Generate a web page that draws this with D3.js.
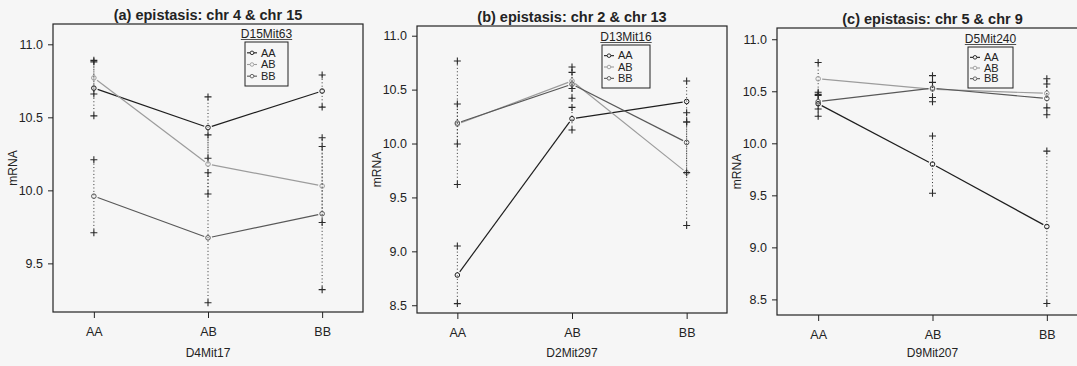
<!DOCTYPE html>
<html>
<head>
<meta charset="utf-8">
<script src="https://cdn.jsdelivr.net/npm/d3@7"></script>
<style>
  body { margin: 0; background: #f6f6f6; }
  svg { display: block; font-family: "Liberation Sans", Arial, sans-serif; }
</style>
</head>
<body>
<svg id="chart" width="1077" height="366"></svg>
<script>
// genotypes on the x axis and in the legend
const genotypes = ["AA", "AB", "BB"];

const titles = [
  "(a) epistasis: chr 4 & chr 15",
  "(b) epistasis: chr 2 & chr 13",
  "(c) epistasis: chr 5 & chr 9"
];
const xLabels = ["D4Mit17", "D2Mit297", "D9Mit207"];
const legendTitles = ["D15Mit63", "D13Mit16", "D5Mit240"];

const yTicks = [
  [9.5, 10.0, 10.5, 11.0],
  [8.5, 9.0, 9.5, 10.0, 10.5, 11.0],
  [8.5, 9.0, 9.5, 10.0, 10.5, 11.0]
];
const yDomains = [
  [9.167, 11.139],
  [8.428, 11.09],
  [8.35, 11.108]
];

// means, lower and upper interval ends: rows = legend genotype (AA, AB, BB), cols = x genotype
const meansA = [[10.70, 10.43, 10.68], [10.77, 10.18, 10.03], [9.96, 9.675, 9.84]];
const lowA   = [[10.51, 10.22, 10.57], [10.66, 9.975, 9.78], [9.71, 9.23, 9.32]];
const highA  = [[10.89, 10.64, 10.79], [10.88, 10.38, 10.30], [10.21, 10.12, 10.36]];

const meansB = [[8.78, 10.23, 10.39], [10.18, 10.58, 9.73], [10.19, 10.55, 10.01]];
const lowB   = [[8.515, 10.125, 10.20], [9.995, 10.51, 9.24], [9.62, 10.42, 9.73]];
const highB  = [[9.05, 10.335, 10.58], [10.366, 10.66, 10.20], [10.765, 10.71, 10.285]];

const meansC = [[10.38, 9.80, 9.20], [10.62, 10.52, 10.48], [10.40, 10.53, 10.43]];
const lowC   = [[10.26, 9.52, 8.46], [10.47, 10.44, 10.34], [10.33, 10.40, 10.275]];
const highC  = [[10.49, 10.07, 9.925], [10.776, 10.585, 10.62], [10.46, 10.65, 10.57]];

const means = [meansA, meansB, meansC];
const lows = [lowA, lowB, lowC];
const highs = [highA, highB, highC];

// layout
const boxes = [
  { l: 53, r: 363, t: 24, b: 312, pad: 0.358 },
  { l: 417, r: 727, t: 26, b: 313, pad: 0.352 },
  { l: 777, r: 1088, t: 28, b: 315, pad: 0.36 }
];
const legendPos = [
  { x: 245, y: 42, w: 43, h: 44 },
  { x: 602, y: 45, w: 48, h: 43 },
  { x: 968, y: 47, w: 45, h: 41 }
];
const seriesColor = ["#1e1e1e", "#9c9c9c", "#585858"];
const ink = "#232323";

const svg = d3.select("#chart");
svg.append("rect").attr("width", 1077).attr("height", 366).attr("fill", "#f6f6f6");

boxes.forEach((bx, i) => {
  const g = svg.append("g");
  const x = d3.scalePoint().domain(genotypes).range([bx.l, bx.r]).padding(bx.pad);
  const y = d3.scaleLinear().domain(yDomains[i]).range([bx.b, bx.t]);

  // y axis
  const ya = g.append("g")
    .attr("transform", "translate(" + bx.l + ",0)")
    .call(d3.axisLeft(y).tickValues(yTicks[i]).tickFormat(d3.format(".1f")).tickSize(5).tickPadding(5));
  ya.select(".domain").remove();
  ya.selectAll("line").attr("stroke", ink);
  ya.selectAll("text").attr("fill", ink).style("font-size", "12.5px");

  // x axis
  const xa = g.append("g")
    .attr("transform", "translate(0," + bx.b + ")")
    .call(d3.axisBottom(x).tickSize(6).tickPadding(9));
  xa.select(".domain").remove();
  xa.selectAll("line").attr("stroke", ink);
  xa.selectAll("text").attr("fill", ink).style("font-size", "12.5px");

  // frame
  g.append("rect")
    .attr("x", bx.l).attr("y", bx.t)
    .attr("width", bx.r - bx.l).attr("height", bx.b - bx.t)
    .attr("fill", "none").attr("stroke", ink).attr("stroke-width", 1.2);

  // title
  g.append("text")
    .attr("x", (bx.l + bx.r) / 2).attr("y", bx.t - 4)
    .attr("text-anchor", "middle")
    .style("font-size", "14.5px").style("font-weight", "bold")
    .attr("fill", ink)
    .text(titles[i]);

  // axis labels
  g.append("text")
    .attr("x", x("AB")).attr("y", 357)
    .attr("text-anchor", "middle").style("font-size", "12px").attr("fill", ink)
    .text(xLabels[i]);
  g.append("text")
    .attr("transform", "translate(" + (bx.l - 36) + "," + ((bx.t + bx.b) / 2) + ") rotate(-90)")
    .attr("text-anchor", "middle").style("font-size", "12px").attr("fill", ink)
    .text("mRNA");

  const plot = g.append("g");
  means[i].forEach((row, s) => {
    // dotted intervals with + ends
    genotypes.forEach((gt, j) => {
      const cx = x(gt);
      plot.append("line")
        .attr("x1", cx).attr("x2", cx)
        .attr("y1", y(lows[i][s][j])).attr("y2", y(highs[i][s][j]))
        .attr("stroke", "#333").attr("stroke-width", 1)
        .attr("stroke-dasharray", "1,2.4");
      [lows[i][s][j], highs[i][s][j]].forEach(v => {
        plot.append("path")
          .attr("transform", "translate(" + cx + "," + y(v) + ")")
          .attr("d", "M-3.5,0H3.5M0,-3.5V3.5")
          .attr("stroke", "#2a2a2a").attr("stroke-width", 1.1);
      });
    });

    // mean lines, broken around the points
    const pts = row.map((v, j) => [x(genotypes[j]), y(v)]);
    for (let j = 0; j < pts.length - 1; j++) {
      const [x1, y1] = pts[j], [x2, y2] = pts[j + 1];
      const len = Math.hypot(x2 - x1, y2 - y1), gap = 4;
      const ux = (x2 - x1) / len, uy = (y2 - y1) / len;
      plot.append("line")
        .attr("x1", x1 + ux * gap).attr("y1", y1 + uy * gap)
        .attr("x2", x2 - ux * gap).attr("y2", y2 - uy * gap)
        .attr("stroke", seriesColor[s]).attr("stroke-width", 1.2);
    }
    pts.forEach(p => {
      plot.append("circle")
        .attr("cx", p[0]).attr("cy", p[1]).attr("r", 2.3)
        .attr("fill", "none").attr("stroke", seriesColor[s]).attr("stroke-width", 1);
    });
  });

  // legend
  const lp = legendPos[i];
  const lg = g.append("g");
  lg.append("rect")
    .attr("x", lp.x).attr("y", lp.y).attr("width", lp.w).attr("height", lp.h)
    .attr("fill", "none").attr("stroke", ink).attr("stroke-width", 1);
  const lt = lg.append("text")
    .attr("x", lp.x + lp.w / 2).attr("y", lp.y - 4)
    .attr("text-anchor", "middle").style("font-size", "12px").attr("fill", ink)
    .text(legendTitles[i]);
  const tw = lt.node().getComputedTextLength();
  lg.append("line")
    .attr("x1", lp.x + lp.w / 2 - tw / 2).attr("x2", lp.x + lp.w / 2 + tw / 2)
    .attr("y1", lp.y - 2.5).attr("y2", lp.y - 2.5)
    .attr("stroke", ink).attr("stroke-width", 0.8);
  const step = (lp.h - 9) / 3;
  genotypes.forEach((gt, s) => {
    const yy = lp.y + 5 + step * s + step / 2;
    lg.append("line").attr("x1", lp.x + 2).attr("x2", lp.x + 5).attr("y1", yy).attr("y2", yy)
      .attr("stroke", seriesColor[s]).attr("stroke-width", 1.1);
    lg.append("line").attr("x1", lp.x + 9).attr("x2", lp.x + 12).attr("y1", yy).attr("y2", yy)
      .attr("stroke", seriesColor[s]).attr("stroke-width", 1.1);
    lg.append("circle").attr("cx", lp.x + 7).attr("cy", yy).attr("r", 1.8)
      .attr("fill", "none").attr("stroke", seriesColor[s]).attr("stroke-width", 0.9);
    lg.append("text")
      .attr("x", lp.x + 16).attr("y", yy + 3.8)
      .style("font-size", "11px").attr("fill", ink)
      .text(gt);
  });
});
</script>
</body>
</html>
